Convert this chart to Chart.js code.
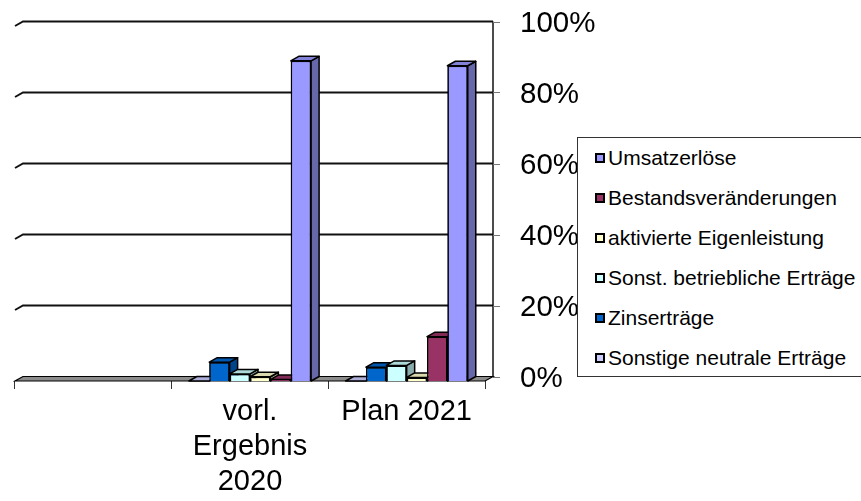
<!DOCTYPE html>
<html>
<head>
<meta charset="utf-8">
<script src="https://cdn.jsdelivr.net/npm/chart.js@4.4.1/dist/chart.umd.min.js"></script>
<style>
  html, body { margin: 0; padding: 0; background: #fff; }
  #wrap { position: relative; width: 861px; height: 501px; overflow: hidden; }
  #legend {
    position: absolute; left: 577px; top: 137px; width: 320px; height: 240px;
    border: 1px solid #333; background: #fff; box-sizing: border-box;
    font-family: 'Liberation Sans', Arial, sans-serif; font-size: 21px; color: #000;
  }
  .item { position: absolute; left: 17px; height: 24px; display: flex; align-items: center; white-space: nowrap; }
  .sw { width: 10px; height: 10px; box-sizing: border-box; border: 2px solid #000; margin-right: 3px; }
</style>
</head>
<body>
<div id="wrap">
  <canvas id="c" width="861" height="501"></canvas>
  <div id="legend"></div>
</div>
<script>
// ---- data ----
const categories = ['', ['vorl.', 'Ergebnis', '2020'], 'Plan 2021'];
const seriesNames = ['Sonstige neutrale Erträge', 'Zinserträge', 'Sonst. betriebliche Erträge', 'aktivierte Eigenleistung', 'Bestandsveränderungen', 'Umsatzerlöse'];
const sonstigeNeutraleErtraege = [null, 0, 0];
const zinsertraege = [null, 5.3, 3.9];
const sonstBetrieblicheErtraege = [null, 2.0, 4.4];
const aktivierteEigenleistung = [null, 1.2, 1.0];
const bestandsveraenderungen = [null, 0.4, 12.5];
const umsatzerloese = [null, 90.2, 88.8];
const yTicks = [0, 20, 40, 60, 80, 100];
const seriesColors = ['#ccccff', '#0066cc', '#ccffff', '#ffffcc', '#993366', '#9999ff'];

const seriesValues = [sonstigeNeutraleErtraege, zinsertraege, sonstBetrieblicheErtraege, aktivierteEigenleistung, bestandsveraenderungen, umsatzerloese];

// ---- helpers ----
const DX = 8, DY = -4.5;
function shade(hex, f) {
  const n = parseInt(hex.slice(1), 16);
  const r = Math.round(((n >> 16) & 255) * f), g = Math.round(((n >> 8) & 255) * f), b = Math.round((n & 255) * f);
  return 'rgb(' + r + ',' + g + ',' + b + ')';
}

const threeD = {
  id: 'threeD',
  beforeDatasetsDraw(chart) {
    const { ctx, chartArea: a, scales: { y } } = chart;
    ctx.save();
    // back-wall gridlines
    ctx.strokeStyle = '#111';
    ctx.lineWidth = 2;
    yTicks.forEach(v => {
      if (v === 0) return;
      const yf = y.getPixelForValue(v);
      ctx.beginPath();
      ctx.moveTo(a.left, yf);
      ctx.lineTo(a.left + DX, yf + DY);
      ctx.lineTo(a.right + DX, yf + DY);
      ctx.stroke();
    });
    // right value axis line + ticks
    const yTopBack = y.getPixelForValue(100) + DY;
    const yBotBack = y.getPixelForValue(0) + DY;
    ctx.lineWidth = 1.5;
    ctx.beginPath();
    ctx.moveTo(a.right + DX, yTopBack);
    ctx.lineTo(a.right + DX, yBotBack);
    ctx.stroke();
    ctx.strokeStyle = '#777';
    ctx.lineWidth = 1;
    yTicks.forEach(v => {
      const yb = Math.round(y.getPixelForValue(v) + DY) + 0.5;
      ctx.beginPath();
      ctx.moveTo(a.right + DX, yb);
      ctx.lineTo(a.right + DX + 7, yb);
      ctx.stroke();
    });
    // floor
    ctx.beginPath();
    ctx.moveTo(a.left, a.bottom);
    ctx.lineTo(a.right, a.bottom);
    ctx.lineTo(a.right + DX, a.bottom + DY);
    ctx.lineTo(a.left + DX, a.bottom + DY);
    ctx.closePath();
    ctx.fillStyle = '#8c8c8c';
    ctx.fill();
    ctx.strokeStyle = '#000';
    ctx.lineWidth = 1.2;
    ctx.stroke();
    ctx.restore();
  },
  afterDatasetsDraw(chart) {
    const { ctx } = chart;
    const n = chart.data.labels.length;
    ctx.save();
    ctx.strokeStyle = '#000';
    ctx.lineWidth = 1.5;
    ctx.lineJoin = 'round';
    for (let i = 0; i < n; i++) {
      chart.data.datasets.forEach((ds, j) => {
        const v = ds.data[i];
        if (v === null || v === undefined) return;
        const bar = chart.getDatasetMeta(j).data[i];
        const col = ds.backgroundColor;
        const p = bar.getProps(['x', 'y', 'base', 'width'], true);
        const l = p.x - p.width / 2, r = p.x + p.width / 2;
        const top = p.y, base = p.base;
        if (top < base - 0.5) {
          ctx.beginPath();
          ctx.moveTo(r, top);
          ctx.lineTo(r + DX, top + DY);
          ctx.lineTo(r + DX, base + DY);
          ctx.lineTo(r, base);
          ctx.closePath();
          ctx.fillStyle = shade(col, 0.67);
          ctx.fill();
          ctx.stroke();
        }
        ctx.beginPath();
        ctx.moveTo(l, top);
        ctx.lineTo(r, top);
        ctx.lineTo(r + DX, top + DY);
        ctx.lineTo(l + DX, top + DY);
        ctx.closePath();
        ctx.fillStyle = shade(col, 0.85);
        ctx.fill();
        ctx.stroke();
        // front face (redrawn so neighbours overlap correctly)
        bar.draw(ctx);
      });
    }
    ctx.restore();
  }
};

const datasets = seriesNames.map((name, i) => ({
  label: name,
  data: seriesValues[i],
  backgroundColor: seriesColors[i],
  borderColor: '#000',
  borderWidth: 1.5,
  categoryPercentage: 0.78,
  barPercentage: 1.0
}));

const FONT = "'Liberation Sans', Arial, sans-serif";

new Chart(document.getElementById('c'), {
  type: 'bar',
  data: { labels: categories, datasets },
  options: {
    responsive: false,
    animation: false,
    devicePixelRatio: 1,
    layout: { padding: { left: 15, top: 26, right: 0, bottom: 0 } },
    plugins: { legend: { display: false }, tooltip: { enabled: false } },
    scales: {
      x: {
        grid: { display: true, drawOnChartArea: false, offset: true, tickLength: 8, color: '#333', lineWidth: 1 },
        border: { display: false },
        ticks: { font: { family: FONT, size: 29, lineHeight: 1.2 }, color: '#000', padding: 6, maxRotation: 0, autoSkip: false },
        afterFit(s) { s.height = 120; s.paddingLeft = 0; s.paddingRight = 0; }
      },
      y: {
        position: 'right',
        min: 0, max: 100,
        afterBuildTicks(s) { s.ticks = yTicks.map(v => ({ value: v })); },
        grid: { display: false, drawTicks: false },
        border: { display: false },
        ticks: { font: { family: FONT, size: 29.5 }, color: '#000', padding: 35, labelOffset: -2, callback: v => v + '%' },
        afterFit(s) { s.width = 376; s.paddingTop = 0; s.paddingBottom = 0; }
      }
    }
  },
  plugins: [threeD]
});

// HTML legend (reverse order as in the original)
const lg = document.getElementById('legend');
seriesNames.slice().reverse().forEach((name, k) => {
  const idx = seriesNames.length - 1 - k;
  const it = document.createElement('div');
  it.className = 'item';
  it.style.top = (8 + k * 40) + 'px';
  const sw = document.createElement('span');
  sw.className = 'sw';
  sw.style.background = seriesColors[idx];
  const tx = document.createElement('span');
  tx.textContent = name;
  it.appendChild(sw);
  it.appendChild(tx);
  lg.appendChild(it);
});
</script>
</body>
</html>
